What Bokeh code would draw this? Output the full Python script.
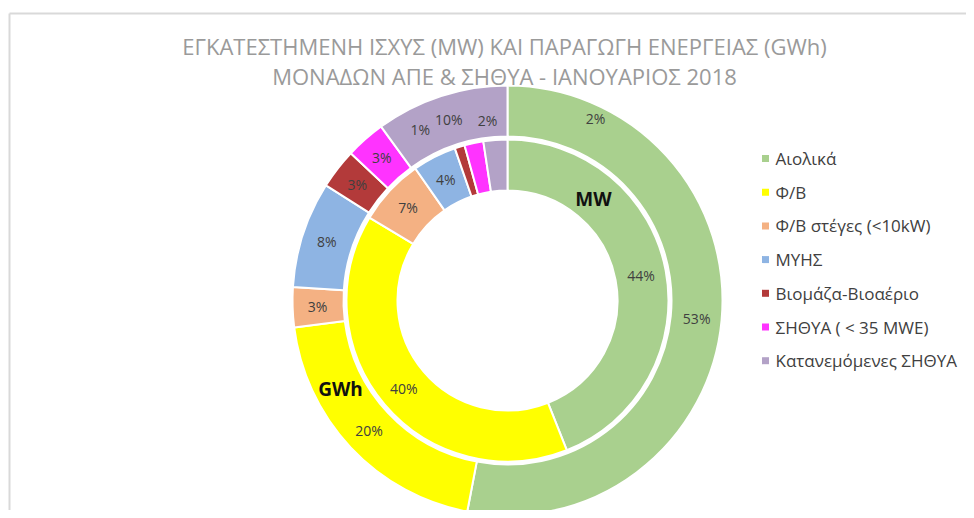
import numpy as np
from bokeh.plotting import figure
from bokeh.models import ColumnDataSource, Range1d
from bokeh.embed import file_html
from bokeh.resources import INLINE
from bokeh.core.properties import value

# ---------------- data ----------------
title_lines = ["ΕΓΚΑΤΕΣΤΗΜΕΝΗ ΙΣΧΥΣ (MW) ΚΑΙ ΠΑΡΑΓΩΓΗ ΕΝΕΡΓΕΙΑΣ (GWh)",
               "ΜΟΝΑΔΩΝ ΑΠΕ & ΣΗΘΥΑ - ΙΑΝΟΥΑΡΙΟΣ 2018"]
categories = ["Αιολικά", "Φ/Β", "Φ/Β στέγες (<10kW)", "ΜΥΗΣ",
              "Βιομάζα-Βιοαέριο", "ΣΗΘΥΑ ( < 35 MWE)", "Κατανεμόμενες ΣΗΘΥΑ"]
mw_share = [44.0, 39.6, 6.7, 4.4, 1.0, 1.9, 2.4]      # inner ring (MW)
gwh_share = [53.0, 20.0, 3.0, 8.0, 3.0, 3.0, 10.0]    # outer ring (GWh)
colors = ["#A9D08E", "#FFFF00", "#F4B183", "#8EB4E3",
          "#B33A3A", "#FF33FF", "#B3A2C7"]
ring_names = ["MW", "GWh"]

# ---------------- layout (screen-like data units) ----------------
W, H = 966, 510
CX, CY = 507, 210
R_IN = (110, 161)
R_OUT = (164, 215)
FONT = "Open Sans"

p = figure(width=W, height=H, output_backend="svg", toolbar_location=None,
           x_range=Range1d(0, W), y_range=Range1d(0, H),
           x_axis_location=None, y_axis_location=None, min_border=0)
p.grid.visible = False
p.outline_line_color = None
p.background_fill_color = "white"
p.border_fill_color = "white"

# chart-area frame (top and left visible)
p.segment(x0=[9, 9], y0=[0, 497], x1=[9, W], y1=[497, 497],
          line_color="#D9D9D9", line_width=2)

labels = []


def ring(vals, radii, label_r, overrides):
    v = np.array(vals, dtype=float)
    frac = v / v.sum()
    cum = np.concatenate([[0.0], np.cumsum(frac)]) * 2 * np.pi
    start = np.pi / 2 - cum[:-1]
    end = np.pi / 2 - cum[1:]
    src = ColumnDataSource(dict(start=start, end=end, color=colors))
    p.annular_wedge(x=CX, y=CY, inner_radius=radii[0], outer_radius=radii[1],
                    start_angle="start", end_angle="end", direction="clock",
                    fill_color="color", line_color="white", line_width=2,
                    source=src)
    mid = (cum[:-1] + cum[1:]) / 2
    rr = np.full(len(v), float(label_r))
    for i, (ang_deg, r) in overrides.items():
        mid[i] = np.deg2rad(ang_deg)
        rr[i] = r
    lx = CX + rr * np.sin(mid)
    ly = CY + rr * np.cos(mid)
    txt = [f"{int(round(f * 100))}%" for f in frac]
    labels.append((lx, ly, txt))


# inner ring: small-slice labels displaced as in the original
ring(mw_share, R_IN, 136, {4: (-27.0, 192), 5: (-6.3, 181), 6: (25.8, 202)})
ring(gwh_share, R_OUT, 190, {})

for lx, ly, txt in labels:
    p.text(x=lx, y=ly, text=txt, text_align="center", text_baseline="middle",
           text_font=value(FONT), text_font_size="14px", text_color="#404040")

# ring names
p.text(x=[CX + 86, CX - 167], y=[CY + 102, CY - 88], text=ring_names,
       text_align="center", text_baseline="middle", text_font=value(FONT),
       text_font_size="19px", text_font_style="bold", text_color="#111111")

# title
p.text(x=[504, 504], y=[465, 435], text=title_lines, text_align="center",
       text_baseline="middle", text_font=value(FONT), text_font_size="22px",
       text_color="#9A9A9A")

# legend
n = len(categories)
ly = [352 - i * 33.7 for i in range(n)]
p.scatter(x=[765] * n, y=ly, marker="square", size=7, fill_color=colors,
          line_color=None)
p.text(x=[775] * n, y=ly, text=categories, text_align="left",
       text_baseline="middle", text_font=value(FONT), text_font_size="17px",
       text_color="#404040")

open("out.html", "w").write(file_html(p, INLINE))
